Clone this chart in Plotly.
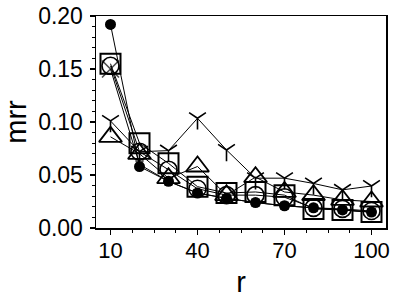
import plotly.graph_objects as go

r = [10, 20, 30, 40, 50, 60, 70, 80, 90, 100]
filled_circle = [0.192, 0.058, 0.044, 0.033, 0.028, 0.024, 0.021, 0.019, 0.017, 0.015]
open_square = [0.155, 0.080, 0.061, 0.039, 0.033, 0.034, 0.031, 0.018, 0.017, 0.015]
open_circle = [0.153, 0.072, 0.055, 0.037, 0.031, 0.031, 0.029, 0.019, 0.018, 0.016]
triangle = [0.086, 0.070, 0.047, 0.058, 0.031, 0.048, 0.034, 0.031, 0.0265, 0.025]
y_marker = [0.101, 0.072, 0.073, 0.1035, 0.0736, 0.047, 0.047, 0.042, 0.036, 0.0396]
x_marker = [0.150, 0.060, 0.044, 0.033, 0.028, 0.024, 0.021, 0.019, 0.017, 0.015]

fig = go.Figure()

def add(yvals, symbol, size, width=1.6):
    fig.add_trace(go.Scatter(
        x=r, y=yvals, mode="lines+markers",
        line=dict(color="black", width=1),
        marker=dict(symbol=symbol, size=size, color="black",
                    line=dict(color="black", width=width)),
        showlegend=False, cliponaxis=False, hoverinfo="skip"))

add(open_square, "square-open", 20, width=2)
add(open_circle, "circle-open", 17)
add(x_marker, "x-thin-open", [17] + [8] * 9)
add(triangle, "triangle-up-open", 20, width=1.8)
add(y_marker, "y-down-open", 14)
add(filled_circle, "circle", 11, width=0)

font = "Liberation Sans, Arial, Helvetica, sans-serif"
fig.update_layout(
    width=399, height=300,
    margin=dict(l=96, r=13, t=16, b=72, autoexpand=False),
    paper_bgcolor="white", plot_bgcolor="white",
    font=dict(family=font, color="black", size=22),
    xaxis=dict(range=[5, 105], tickvals=[10, 40, 70, 100], automargin=False,
               ticks="outside", ticklen=5, tickwidth=1.2, tickcolor="black",
               minor=dict(tick0=10, dtick=7.5, ticks="outside", ticklen=3, tickcolor="black", tickwidth=1),
               showline=True, linecolor="black", linewidth=1.5, mirror=True,
               showgrid=False, zeroline=False, ticklabeloverflow="allow",
               ticklabelstandoff=-3,
               tickfont=dict(size=22),
               title=dict(text="r", font=dict(size=29), standoff=10)),
    yaxis=dict(range=[0, 0.20], tickvals=[0, 0.05, 0.10, 0.15, 0.20], automargin=False,
               ticktext=["0.00", "0.05", "0.10", "0.15", "0.20"],
               ticks="outside", ticklen=5, tickwidth=1.2, tickcolor="black",
               minor=dict(dtick=0.01, ticks="outside", ticklen=3, tickcolor="black", tickwidth=1),
               showline=True, linecolor="black", linewidth=1.5, mirror=True,
               showgrid=False, zeroline=False, ticklabeloverflow="allow",
               ticklabelstandoff=2,
               tickfont=dict(size=23),
               title=dict(text="mrr", font=dict(size=29), standoff=13)),
)

# remove the browser's default 8px body margin so the figure fills the window
fig.write_html("out.html", config={"displayModeBar": False, "staticPlot": True},
               post_script="document.body.style.margin='0';")
